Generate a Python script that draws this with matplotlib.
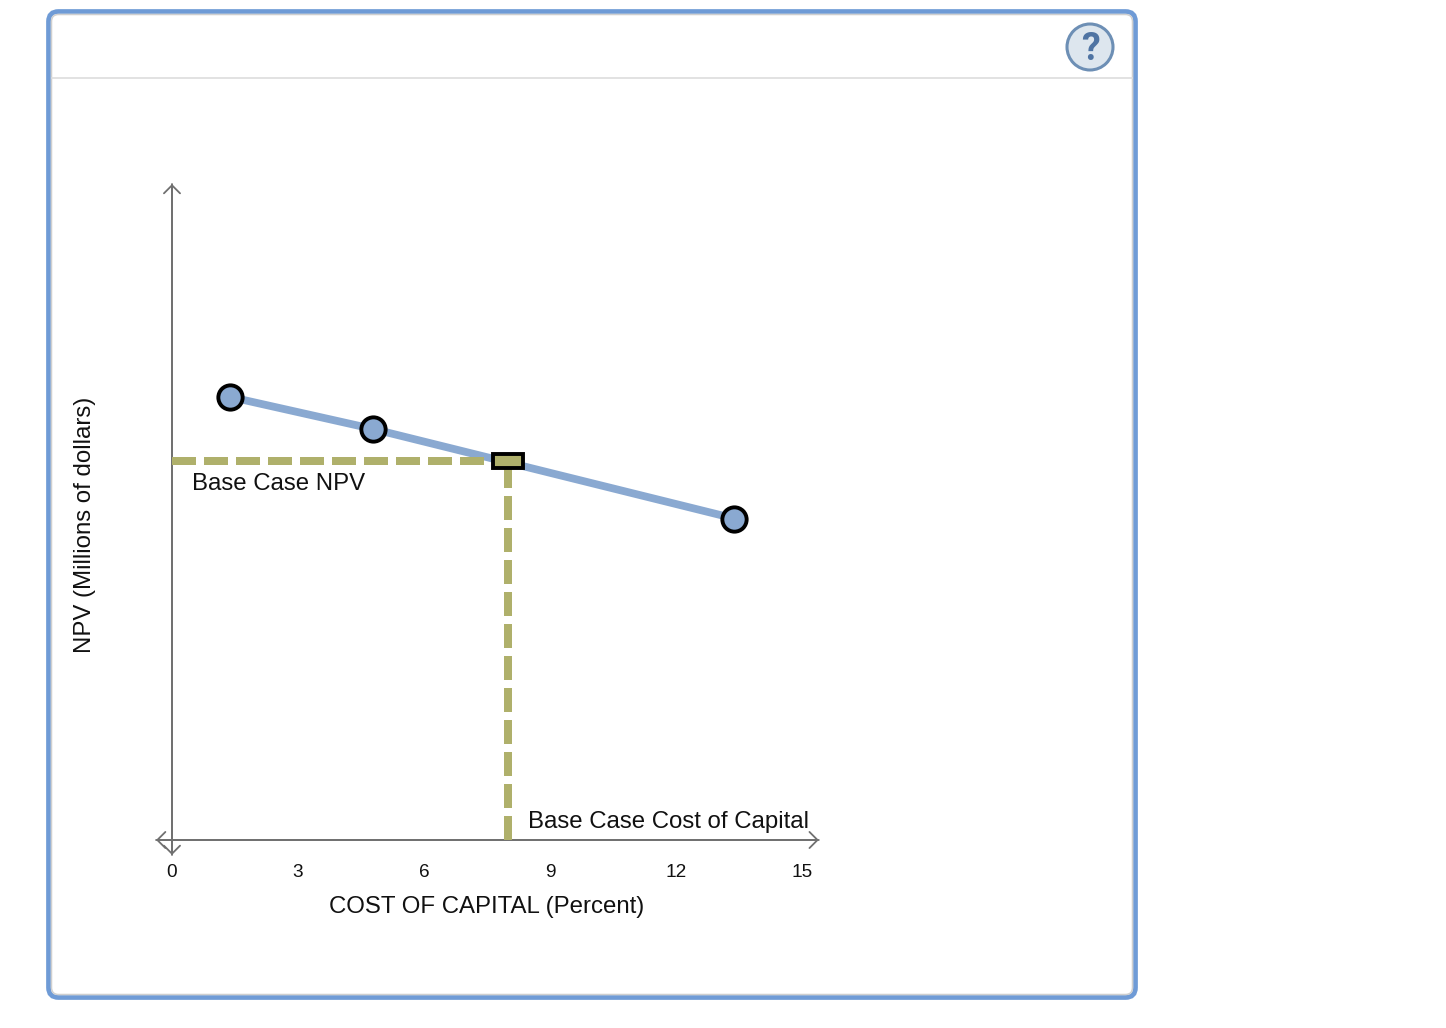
import matplotlib
matplotlib.use("Agg")
from matplotlib import pyplot as plt
from matplotlib.patches import FancyBboxPatch, Circle
from matplotlib.markers import MarkerStyle
from matplotlib.transforms import Affine2D

plt.rcParams['font.family'] = ['Liberation Sans', 'DejaVu Sans']

W, H = 1446, 1028

# values (y axis has no scale, units are arbitrary)
cost_points = [1.39, 4.79, 13.39]
npv_points = [44.3, 41.1, 32.15]
base_cost = 8.0
base_npv = 37.9
x_ticks = [0, 3, 6, 9, 12, 15]
y_top = 65.6

BLUE = "#8AA9D1"
OLIVE = "#AFB06B"
AXIS = "#707070"

fig = plt.figure(figsize=(W/100, H/100), dpi=100)

# page furniture, in pixels
bg = fig.add_axes([0, 0, 1, 1])
bg.set_xlim(0, W)
bg.set_ylim(H, 0)
bg.axis("off")
bg.add_patch(FancyBboxPatch((48.5, 11.5), 1087, 986, boxstyle="round,pad=0,rounding_size=10",
                            fc="white", ec="#6F9BD6", lw=3.4))
bg.add_patch(FancyBboxPatch((51.5, 14.5), 1081, 980, boxstyle="round,pad=0,rounding_size=7",
                            fc="white", ec="#CFCFCF", lw=1.1))
bg.plot([52, 1132], [78, 78], color="#DDDDDD", lw=1.2)
bg.add_patch(Circle((1090, 47), 23, fc="#DDE6EE", ec="#6D8FB5", lw=2.2))
bg.text(1090, 49, "?", family="Roboto", color="#4F74A3", fontsize=27, fontweight="bold",
        ha="center", va="center")

# chart, 42 px per percent and 10 px per y unit
ax = fig.add_axes([172/W, 1-840/H, 630/W, 656/H])
ax.patch.set_alpha(0)
ax.set_xlim(0, 15)
ax.set_ylim(0, y_top)
for s in ax.spines.values():
    s.set_visible(False)
ax.set_yticks([])
ax.set_xticks(x_ticks)
ax.tick_params(axis="x", length=0, pad=17, labelsize=13.7, labelcolor="#111111")

arrow = dict(arrowstyle="->,head_length=0.58,head_width=0.58", color=AXIS, lw=1.3, shrinkA=0, shrinkB=0)
ax.annotate("", xy=(-0.38, 0), xytext=(15.4, 0), arrowprops=arrow, annotation_clip=False)
ax.annotate("", xy=(15.4, 0), xytext=(-0.38, 0), arrowprops=arrow, annotation_clip=False)
ax.annotate("", xy=(0, y_top), xytext=(0, -1.5), arrowprops=arrow, annotation_clip=False)
ax.annotate("", xy=(0, -1.5), xytext=(0, y_top), arrowprops=arrow, annotation_clip=False)

ax.plot(cost_points, npv_points, color=BLUE, lw=5.6, zorder=3, solid_capstyle="butt")
ax.plot([0, base_cost], [base_npv, base_npv], color=OLIVE, lw=5.76, dashes=(3, 1), zorder=4)
ax.plot([base_cost, base_cost], [0, base_npv], color=OLIVE, lw=5.76, dashes=(3, 1), zorder=4)
ax.plot(cost_points, npv_points, "o", ms=17.5, mfc=BLUE, mec="black", mew=2.8, zorder=5, clip_on=False)
ax.plot([base_cost], [base_npv], ms=9.5, mfc=OLIVE, mec="black", mew=2.8, zorder=5,
        marker=MarkerStyle("s", transform=Affine2D().scale(2.2, 1)))

ax.text(0.48, base_npv-2.3, "Base Case NPV", fontsize=17.3, ha="left", va="center", color="#111111")
ax.text(8.48, 1.8, "Base Case Cost of Capital", fontsize=17.3, ha="left", va="center", color="#111111")
ax.set_xlabel("COST OF CAPITAL (Percent)", fontsize=17.3, color="#111111")
ax.xaxis.set_label_coords((487-172)/630, -(907-840)/656, transform=ax.transAxes)
ax.xaxis.label.set_va("center")
ax.set_ylabel("NPV (Millions of dollars)", fontsize=17.3, color="#111111")
ax.yaxis.set_label_coords((85-172)/630, (840-525)/656, transform=ax.transAxes)
ax.yaxis.label.set_va("center")

fig.savefig("out.png", dpi=100)
